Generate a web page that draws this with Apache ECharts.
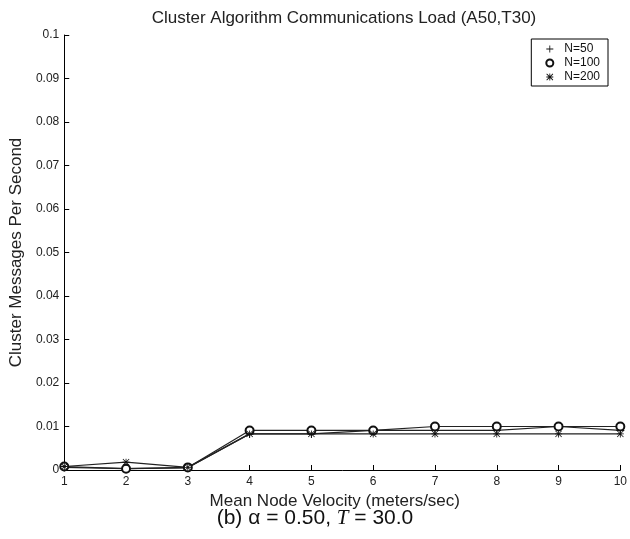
<!DOCTYPE html>
<html>
<head>
<meta charset="utf-8">
<script src="https://cdn.jsdelivr.net/npm/echarts@6/dist/echarts.min.js"></script>
<style>
  html, body { margin: 0; padding: 0; background: #fff; }
  #chart { width: 630px; height: 539px; }
</style>
</head>
<body>
<div id="chart"></div>
<script>
// mean node velocity (m/s)
var velocity = ['1', '2', '3', '4', '5', '6', '7', '8', '9', '10'];
// cluster messages per second
var n50  = [0.0006, 0.0003, 0.0005, 0.0083, 0.0083, 0.0091, 0.0091, 0.0091, 0.0100, 0.0091];
var n100 = [0.0008, 0.0003, 0.0006, 0.0091, 0.0091, 0.0091, 0.0100, 0.0100, 0.0100, 0.0100];
var n200 = [0.0008, 0.0018, 0.0006, 0.0083, 0.0083, 0.0083, 0.0083, 0.0083, 0.0083, 0.0083];
var seriesNames = ['N=50', 'N=100', 'N=200'];

var FONT = '"Liberation Sans", Arial, sans-serif';
var plusPath = 'path://M4.4 0H5.6V4.4H10V5.6H5.6V10H4.4V5.6H0V4.4H4.4Z';
var starPath = 'path://M4.4 0H5.6V10H4.4Z M0 4.4H10V5.6H0Z ' +
  'M0.9 0.1L9.9 9.1L9.1 9.9L0.1 0.9Z M9.1 0.1L9.9 0.9L0.9 9.9L0.1 9.1Z';

var chart = echarts.init(document.getElementById('chart'));

function lineSeries(name, data, symbol, size, bw) {
  return {
    name: name,
    type: 'line',
    data: data,
    symbol: symbol,
    symbolSize: size,
    showAllSymbol: true,
    lineStyle: { color: '#222', width: 1.2 },
    itemStyle: { color: '#111', borderColor: '#111', borderWidth: bw },
    emphasis: { disabled: true },
    animation: false
  };
}

var option = {
  backgroundColor: '#fff',
  title: {
    text: 'Cluster Algorithm Communications Load (A50,T30)',
    left: 339,
    textAlign: 'center',
    top: 5,
    textStyle: { fontFamily: FONT, fontSize: 17, fontWeight: 'normal', color: '#222' }
  },
  legend: {
    orient: 'vertical',
    right: 22,
    top: 39,
    padding: [4, 8, 3, 14],
    itemGap: 2,
    itemWidth: 7,
    itemHeight: 7,
    backgroundColor: '#fff',
    borderColor: '#000',
    borderWidth: 1,
    borderRadius: 0,
    itemStyle: { borderWidth: 0.6 },
    textStyle: { fontFamily: FONT, fontSize: 12, color: '#111', padding: [0, 0, 0, 6] },
    data: [
      { name: seriesNames[0], icon: plusPath, itemStyle: { borderWidth: 0 } },
      { name: seriesNames[1], icon: 'emptyCircle' },
      { name: seriesNames[2], icon: starPath, itemStyle: { borderWidth: 0 } }
    ]
  },
  grid: { left: 60, right: 3, top: 35, bottom: 69 },
  xAxis: {
    type: 'category',
    data: velocity,
    boundaryGap: false,
    name: 'Mean Node Velocity (meters/sec)',
    nameLocation: 'middle',
    nameGap: 21,
    nameTextStyle: { fontFamily: FONT, fontSize: 17, color: '#222', padding: [0, 15, 0, 0] },
    axisLine: { lineStyle: { color: '#000', width: 1 } },
    axisTick: { inside: true, length: 5, alignWithLabel: true, lineStyle: { color: '#000' } },
    axisLabel: { fontFamily: FONT, fontSize: 12, color: '#222', margin: 6 },
    splitLine: { show: false }
  },
  yAxis: {
    type: 'value',
    min: 0,
    max: 0.1,
    interval: 0.01,
    name: 'Cluster Messages Per Second',
    nameLocation: 'middle',
    nameGap: 31,
    nameTextStyle: { fontFamily: FONT, fontSize: 17, color: '#222' },
    axisLine: { show: true, lineStyle: { color: '#000', width: 1 } },
    axisTick: { show: true, inside: true, length: 5, lineStyle: { color: '#000' } },
    axisLabel: { fontFamily: FONT, fontSize: 12, color: '#222', margin: 5 },
    splitLine: { show: false }
  },
  graphic: [{
    type: 'text',
    left: 'center',
    top: 508,
    style: {
      text: '(b) α = 0.50, {it|T} = 30.0',
      font: '21px ' + FONT,
      fill: '#111',
      rich: {
        it: { fontFamily: '"Liberation Serif", "DejaVu Serif", serif', fontStyle: 'italic', fontSize: 21, fill: '#111' }
      }
    }
  }],
  series: [
    lineSeries(seriesNames[0], n50, plusPath, 8, 0),
    lineSeries(seriesNames[1], n100, 'emptyCircle', 8, 0.8),
    lineSeries(seriesNames[2], n200, starPath, 7, 0)
  ]
};

chart.setOption(option);
</script>
</body>
</html>
